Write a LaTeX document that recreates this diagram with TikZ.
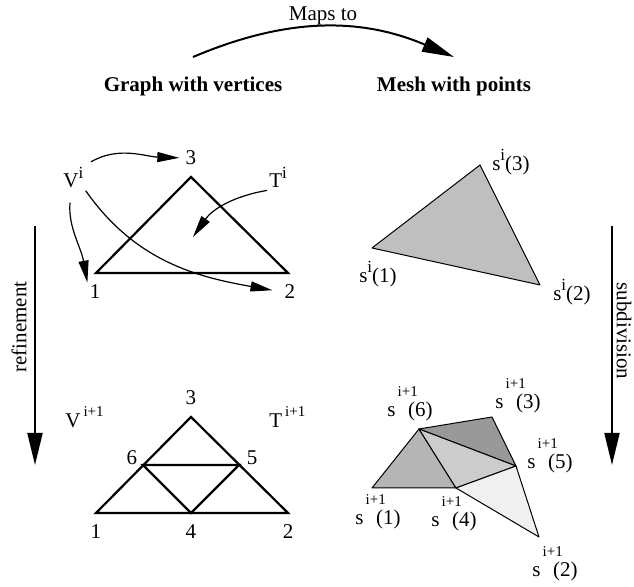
\documentclass[tikz,border=0pt]{standalone}
\usepackage{fontspec}
\setmainfont{Liberation Serif}
\usetikzlibrary{arrows.meta}
\definecolor{meshA}{gray}{0.75}
\definecolor{meshB}{gray}{0.71}
\definecolor{meshC}{gray}{0.60}
\definecolor{meshD}{gray}{0.80}
\definecolor{meshE}{gray}{0.94}
\newcommand{\supi}{\raisebox{0.45em}{\fontsize{8.5}{9}\selectfont i}}
\newcommand{\supn}{\hspace{1.5pt}\raisebox{0.55em}{\fontsize{7.5}{9}\selectfont i+1}}
\newcommand{\spt}[1]{s\hspace{0.1em}\raisebox{0.95em}[0pt][0pt]{\makebox[0pt][l]{\fontsize{7.5}{9}\selectfont i+1}}\hspace{0.5em}(#1)}

\begin{document}
\begin{tikzpicture}[
  x=0.5pt,y=0.5pt,
  lbl/.style={inner sep=1pt,font=\fontsize{10.5}{12}\selectfont},
  title/.style={inner sep=1pt,anchor=base,font=\fontsize{10.5}{12}\selectfont\bfseries},
  graphedge/.style={line width=1.1pt,line join=miter},
  meshedge/.style={line width=0.5pt,line join=round},
  small/.style={-{Triangle[length=11pt,width=5pt]},line width=0.6pt},
  big/.style={-{Triangle[length=16pt,width=7.5pt]},line width=1pt}
]
\useasboundingbox (0,0) rectangle (634,587);

\node[title] (gv) at (193,495) {Graph with vertices};
\node[title] (mp) at (454,495) {Mesh with points};
\node[lbl,anchor=base] (maps) at (323,566) {Maps to};
\draw[big] ([yshift=9pt]gv.north) to[bend left=23] ([yshift=9pt]mp.north);

\coordinate (ref1) at (35,361);
\coordinate (ref2) at (35,122);
\coordinate (sub1) at (612,361);
\coordinate (sub2) at (612,122);
\draw[big] (ref1) -- (ref2);
\draw[big] (sub1) -- (sub2);
\node[lbl,rotate=90] (refine) at (19,260) {refinement};
\node[lbl,rotate=-90] (subdiv) at (624,256) {subdivision};

% level i graph
\coordinate (a1) at (96,314);
\coordinate (a2) at (288,314);
\coordinate (a3) at (191,410);
\draw[graphedge] (a1) -- (a2) -- (a3) -- cycle;
\node[lbl] (n1) at (95,295) {1};
\node[lbl] (n2) at (290,295) {2};
\node[lbl] (n3) at (191,429) {3};
\node[lbl,anchor=base west] (vi) at (61,399) {V\supi};
\node[lbl,anchor=base west] (ti) at (267,399) {T\supi};
\coordinate (tc) at (193,350);
\draw[small,shorten <=3pt,shorten >=2pt] (vi.north east) to[out=30,in=178] (n3.west);
\draw[small,shorten <=6pt] (vi.-100) to[out=-95,in=100] (n1.north west);
\draw[small,shorten >=5pt] (vi.south east) to[out=-55,in=170] (n2.west);
\draw[small] (ti.south west) to[out=190,in=55] (tc);

% level i+1 graph
\coordinate (b1) at (96,74);
\coordinate (b2) at (288,74);
\coordinate (b3) at (191,170);
\coordinate (b4) at (191,74);
\coordinate (b5) at (239,122);
\coordinate (b6) at (143,122);
\draw[graphedge] (b1) -- (b2) -- (b3) -- cycle;
\draw[graphedge] (b4) -- (b5) -- (b6) -- cycle;
\node[lbl] (m1) at (96,55) {1};
\node[lbl] (m2) at (288,55) {2};
\node[lbl] (m3) at (191,189) {3};
\node[lbl] (m4) at (191,55) {4};
\node[lbl] (m5) at (252,129) {5};
\node[lbl] (m6) at (132,129) {6};
\node[lbl,anchor=base west] (vn) at (63,159) {V\supn};
\node[lbl,anchor=base west] (tn) at (267,159) {T\supn};

% level i mesh
\coordinate (s1) at (372,339);
\coordinate (s2) at (540,302);
\coordinate (s3) at (480,422);
\filldraw[fill=meshA,meshedge] (s1) -- (s2) -- (s3) -- cycle;
\node[lbl] (si1) at (378,313) {s\supi(1)};
\node[lbl] (si2) at (572,295) {s\supi(2)};
\node[lbl] (si3) at (511,425) {s\supi(3)};

% level i+1 mesh
\coordinate (p1) at (372,99);
\coordinate (p2) at (539,50);
\coordinate (p3) at (492,170);
\coordinate (p4) at (456,99);
\coordinate (p5) at (516,121);
\coordinate (p6) at (419,158);
\filldraw[fill=meshB,meshedge] (p1) -- (p4) -- (p6) -- cycle;
\filldraw[fill=meshC,meshedge] (p6) -- (p3) -- (p5) -- cycle;
\filldraw[fill=meshD,meshedge] (p6) -- (p4) -- (p5) -- cycle;
\filldraw[fill=meshE,meshedge] (p4) -- (p2) -- (p5) -- cycle;
\node[lbl] (q1) at (378,68) {\spt{1}};
\node[lbl] (q2) at (555,16) {\spt{2}};
\node[lbl] (q3) at (518,184) {\spt{3}};
\node[lbl] (q4) at (454,66) {\spt{4}};
\node[lbl] (q5) at (550,124) {\spt{5}};
\node[lbl] (q6) at (410,176) {\spt{6}};
\end{tikzpicture}
\end{document}
